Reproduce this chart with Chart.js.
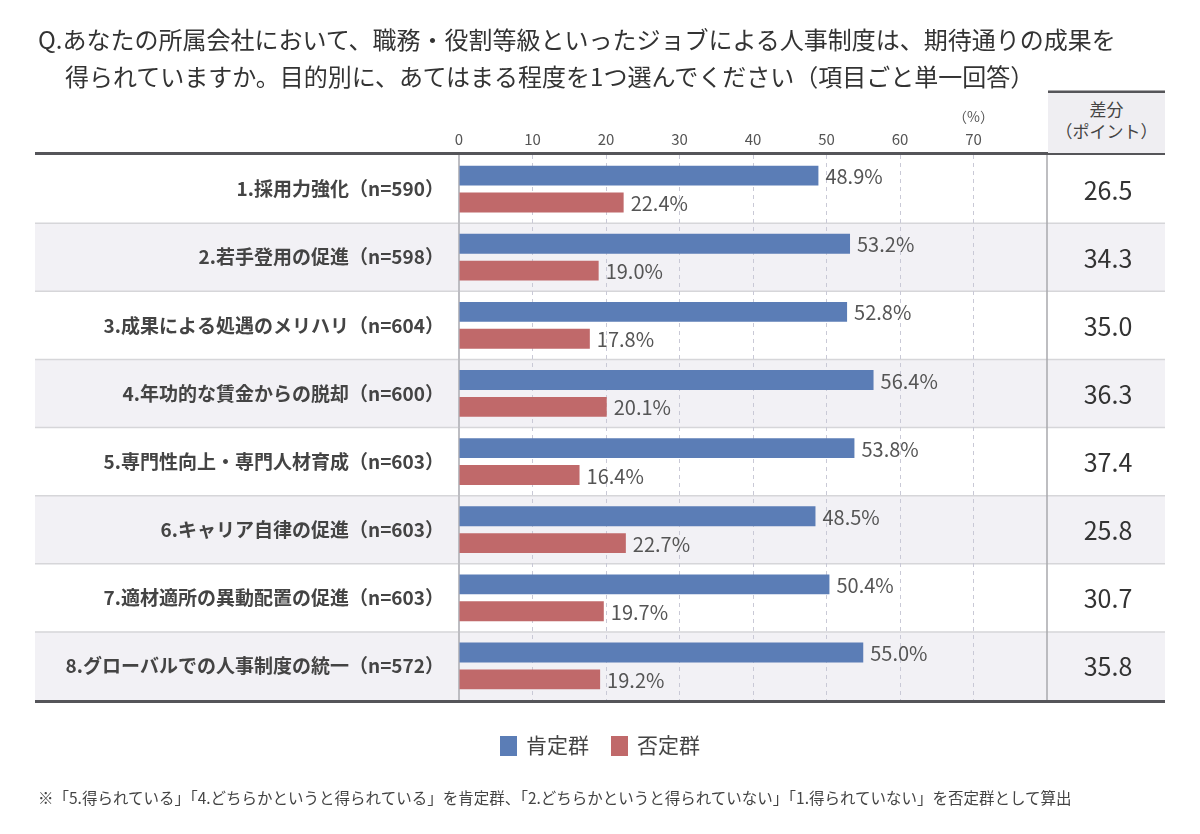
<!DOCTYPE html>
<html lang="ja">
<head>
<meta charset="utf-8">
<script src="https://cdn.jsdelivr.net/npm/chart.js@4"></script>
<style>
  html, body { margin: 0; padding: 0; background: #ffffff; }
  body { width: 1200px; height: 834px; position: relative; overflow: hidden;
         font-family: "Noto Sans CJK JP", "Noto Sans", sans-serif; color: #333; }
  #chart { position: absolute; left: 0; top: 0; }
  .title { position: absolute; font-size: 24px; line-height: 37px; color: #333; white-space: nowrap; }
  #t1 { left: 38px; top: 20px; }
  #t2 { left: 65px; top: 57px; }
  #hdr { position: absolute; left: 1048px; top: 93px; width: 117px; height: 60px;
         background: #efeef2; text-align: center; font-size: 17px; line-height: 22px; color: #444;
         padding-top: 5px; box-sizing: border-box; }
  #legend { position: absolute; left: 0; top: 729px; width: 1200px; text-align: center; font-size: 21px; color: #444; }
  #legend span.item { display: inline-block; margin: 0 11px; }
  #legend span.sw { display: inline-block; width: 17px; height: 20px; vertical-align: -3px; margin-right: 9px; }
  #note { position: absolute; left: 38px; top: 786px; font-size: 15.5px; line-height: 22px; color: #444; white-space: nowrap; }
</style>
</head>
<body>
<canvas id="chart" width="1200" height="834"></canvas>
<div class="title" id="t1">Q.あなたの所属会社において、職務・役割等級といったジョブによる人事制度は、期待通りの成果を</div>
<div class="title" id="t2">得られていますか。目的別に、あてはまる程度を1つ選んでください（項目ごと単一回答）</div>
<div id="hdr">差分<br>（ポイント）</div>
<div id="legend"></div>
<div id="note">※「5.得られている」「4.どちらかというと得られている」を肯定群、「2.どちらかというと得られていない」「1.得られていない」を否定群として算出</div>
<script>
const categories = [
  "1.採用力強化（n=590）",
  "2.若手登用の促進（n=598）",
  "3.成果による処遇のメリハリ（n=604）",
  "4.年功的な賃金からの脱却（n=600）",
  "5.専門性向上・専門人材育成（n=603）",
  "6.キャリア自律の促進（n=603）",
  "7.適材適所の異動配置の促進（n=603）",
  "8.グローバルでの人事制度の統一（n=572）"
];
const positiveValues = [48.9, 53.2, 52.8, 56.4, 53.8, 48.5, 50.4, 55.0];
const negativeValues = [22.4, 19.0, 17.8, 20.1, 16.4, 22.7, 19.7, 19.2];
const diffPoints = [26.5, 34.3, 35.0, 36.3, 37.4, 25.8, 30.7, 35.8];
const seriesLabels = ["肯定群", "否定群"];
const tickValues = [0, 10, 20, 30, 40, 50, 60, 70];

const BLUE = "#5b7db6";
const RED = "#c0696a";
const FONT = '"Noto Sans CJK JP", "Noto Sans", sans-serif';
const TABLE_LEFT = 35, TABLE_RIGHT = 1165, DIFF_LEFT = 1047;

const tablePlugin = {
  id: "tableDecor",
  beforeDraw(chart) {
    const ctx = chart.ctx, y = chart.scales.y, area = chart.chartArea;
    const n = categories.length;
    const band = (area.bottom - area.top) / n;
    ctx.save();
    for (let i = 0; i < n; i++) {
      const top = y.getPixelForValue(i) - band / 2;
      if (i % 2 === 1) {
        ctx.fillStyle = "#f2f1f5";
        ctx.fillRect(TABLE_LEFT, top, TABLE_RIGHT - TABLE_LEFT, band);
      }
    }
    ctx.strokeStyle = "#d6d6d9";
    ctx.lineWidth = 1.5;
    for (let i = 1; i < n; i++) {
      const yy = y.getPixelForValue(i) - band / 2;
      ctx.beginPath(); ctx.moveTo(TABLE_LEFT, yy); ctx.lineTo(TABLE_RIGHT, yy); ctx.stroke();
    }
    ctx.restore();
  },
  afterDraw(chart) {
    const ctx = chart.ctx, y = chart.scales.y, x = chart.scales.x, area = chart.chartArea;
    ctx.save();
    ctx.strokeStyle = "#a9a9ad"; ctx.lineWidth = 1.5;
    ctx.beginPath(); ctx.moveTo(DIFF_LEFT, area.top); ctx.lineTo(DIFF_LEFT, area.bottom); ctx.stroke();
    ctx.strokeStyle = "#555559"; ctx.lineWidth = 3;
    ctx.beginPath(); ctx.moveTo(TABLE_LEFT, area.top - 1.5); ctx.lineTo(TABLE_RIGHT, area.top - 1.5); ctx.stroke();
    ctx.beginPath(); ctx.moveTo(TABLE_LEFT, area.bottom + 1.5); ctx.lineTo(TABLE_RIGHT, area.bottom + 1.5); ctx.stroke();
    ctx.beginPath(); ctx.moveTo(DIFF_LEFT + 1, 92); ctx.lineTo(TABLE_RIGHT, 92); ctx.stroke();
    ctx.fillStyle = "#555"; ctx.font = "14px " + FONT;
    ctx.textAlign = "center"; ctx.textBaseline = "middle";
    ctx.fillText("（%）", x.getPixelForValue(70), 117);
    ctx.fillStyle = "#333"; ctx.font = "25px " + FONT;
    diffPoints.forEach((v, i) => {
      ctx.fillText(v.toFixed(1), (DIFF_LEFT + TABLE_RIGHT) / 2 + 2, y.getPixelForValue(i) + 1);
    });
    ctx.restore();
  },
  afterDatasetsDraw(chart) {
    const ctx = chart.ctx;
    ctx.save();
    ctx.fillStyle = "#555"; ctx.font = "20px " + FONT;
    ctx.textAlign = "left"; ctx.textBaseline = "middle";
    chart.data.datasets.forEach((ds, di) => {
      chart.getDatasetMeta(di).data.forEach((bar, i) => {
        ctx.fillText(ds.data[i].toFixed(1) + "%", bar.x + 7, bar.y + 1);
      });
    });
    ctx.restore();
  }
};

const chart = new Chart(document.getElementById("chart"), {
  type: "bar",
  data: {
    labels: categories,
    datasets: [
      { label: seriesLabels[0], data: positiveValues, backgroundColor: BLUE, borderWidth: 0 },
      { label: seriesLabels[1], data: negativeValues, backgroundColor: RED, borderWidth: 0 }
    ]
  },
  options: {
    indexAxis: "y",
    responsive: false,
    animation: false,
    layout: { padding: { left: TABLE_LEFT, right: 1200 - DIFF_LEFT, top: 100, bottom: 134 } },
    categoryPercentage: 0.79,
    barPercentage: 0.74,
    plugins: { legend: { display: false }, tooltip: { enabled: false } },
    scales: {
      x: {
        position: "top",
        min: 0, max: 80,
        afterBuildTicks(scale) { scale.ticks = tickValues.map(v => ({ value: v })); },
        afterFit(scale) { scale.height = 55; },
        ticks: { color: "#555", font: { family: FONT, size: 15 }, padding: 7 },
        grid: {
          drawTicks: false,
          lineWidth: 1,
          color: c => (c.tick && c.tick.value > 0 && c.tick.value <= 70) ? "#c9c9d6" : "rgba(0,0,0,0)"
        },
        border: { display: false, dash: [4, 4] }
      },
      y: {
        afterFit(scale) { scale.width = 459 - TABLE_LEFT; },
        ticks: { color: "#444", font: { family: FONT, size: 19, weight: "bold" }, padding: 15 },
        grid: { display: false, drawTicks: false },
        border: { display: true, color: "#bdbdc2", width: 2 }
      }
    }
  },
  plugins: [tablePlugin]
});

const legend = document.getElementById("legend");
chart.data.datasets.forEach(ds => {
  const item = document.createElement("span");
  item.className = "item";
  const sw = document.createElement("span");
  sw.className = "sw";
  sw.style.background = ds.backgroundColor;
  item.appendChild(sw);
  item.appendChild(document.createTextNode(ds.label));
  legend.appendChild(item);
});
</script>
</body>
</html>
